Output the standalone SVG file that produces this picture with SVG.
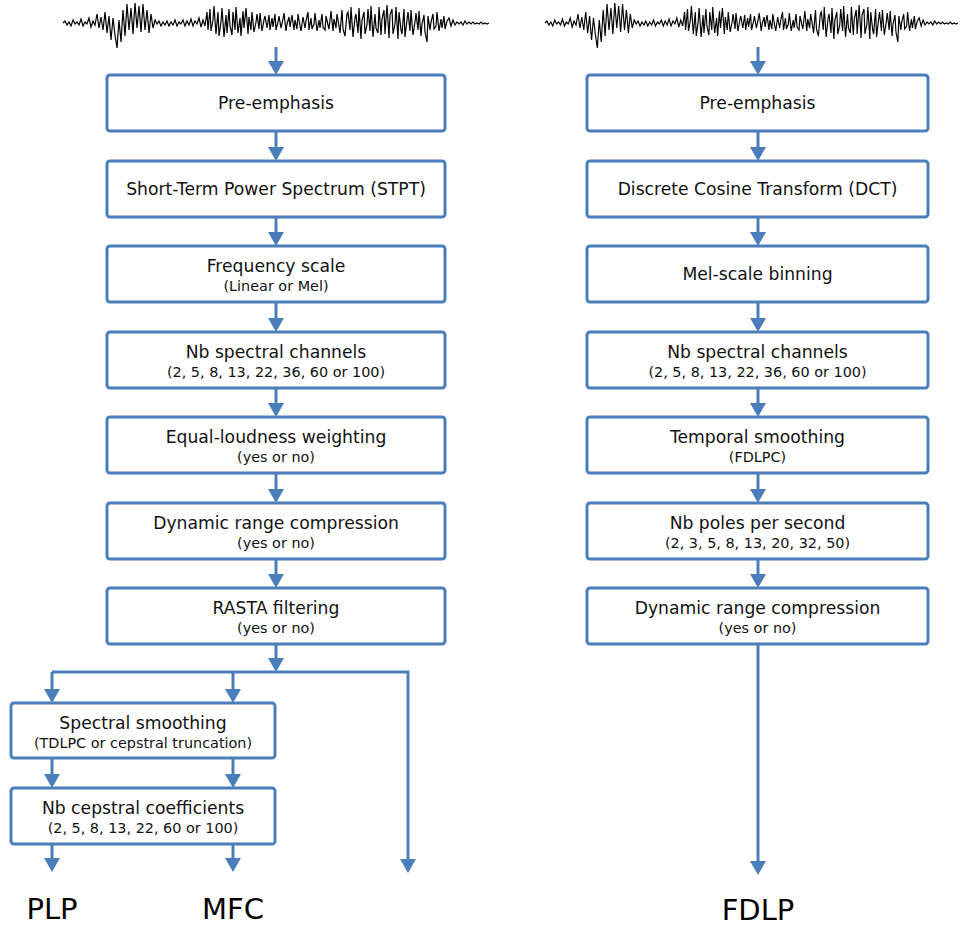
<svg xmlns="http://www.w3.org/2000/svg" xmlns:xlink="http://www.w3.org/1999/xlink" width="966" height="926" viewBox="0 0 966 926">
<style>
.box{fill:#fff;stroke:#4A7EBB;stroke-width:3}
.conn{fill:none;stroke:#4A7EBB;stroke-width:3}
.t{font-family:"DejaVu Sans",sans-serif;font-size:17.2px;fill:#111;text-anchor:middle}
.s{font-family:"DejaVu Sans",sans-serif;font-size:14.4px;fill:#111;text-anchor:middle}
.big{font-family:"DejaVu Sans",sans-serif;font-size:29px;fill:#000;text-anchor:middle}
.wave{fill:none;stroke:#000;stroke-width:1.2;stroke-linejoin:miter}
</style>
<defs>
<marker id="ah" viewBox="0 0 14 16" refX="2" refY="8" markerWidth="14" markerHeight="16" markerUnits="userSpaceOnUse" orient="auto">
<path d="M0,0 L14,8 L0,16 z" fill="#4A7EBB"/>
</marker>
<path id="wave" class="wave" d="M63,23 L65,21 67,25 69,22 71,26 73,20 75,24 77,22 79,25 81,19 83,26 85,22 87,24 89,18 91,27 93,21 95,25 97,14 99,28 101,17 103,30 105,12 107,33 109,16 111,40 113,18 115,35 117,48 119,20 121,42 123,10 125,36 127,4 129,30 131,8 133,34 135,3 137,28 139,6 141,32 143,4 145,30 147,10 149,33 151,14 153,28 155,20 157,24 159,21 161,26 163,22 165,25 167,21 169,26 171,22 173,25 175,20 177,26 179,22 181,24 183,20 185,26 187,21 189,25 191,19 193,26 195,21 197,24 199,18 201,27 203,20 205,26 207,12 208,30 210,9 211,31 213,20 214,6 216,34 218,12 219,36 221,22 222,8 224,37 226,15 227,33 229,9 230,26 232,35 233,12 235,30 236,7 238,33 240,18 241,36 243,11 244,28 246,8 248,34 249,17 251,30 252,12 254,32 256,22 257,14 259,29 260,13 262,31 264,20 265,16 267,28 269,15 270,30 272,18 273,27 275,14 276,30 278,22 279,16 281,28 283,19 284,13 286,31 287,24 289,17 290,27 292,15 294,30 295,20 297,29 298,14 300,26 301,31 303,17 305,28 306,21 308,12 309,30 311,18 312,29 314,24 315,13 317,31 319,20 320,28 322,14 323,27 325,30 326,16 328,25 329,29 331,11 333,31 334,19 336,28 337,14 339,26 340,33 342,10 343,29 345,36 347,14 348,12 350,30 351,7 353,37 355,18 356,14 358,33 359,8 361,39 362,20 364,12 365,34 367,25 368,9 370,31 371,6 373,37 375,14 376,28 378,33 379,7 381,35 382,19 384,10 385,34 387,5 389,38 390,15 392,9 393,34 395,24 396,7 398,39 399,12 401,30 402,34 404,9 405,37 407,20 408,12 410,31 411,10 413,35 415,22 416,13 418,30 419,11 421,36 422,24 424,15 425,32 427,42 428,16 430,30 431,22 433,14 434,29 436,26 437,12 439,31 441,19 442,28 444,16 445,29 447,21 449,18 451,26 453,20 455,25 457,22 459,24 461,22 463,25 465,21 467,24 469,22 471,24 473,22 475,24 477,23 479,24 481,22 483,24 485,23 487,24 489,23"/>
</defs>
<rect width="966" height="926" fill="#fff"/>

<g id="waveform-left"><use xlink:href="#wave" href="#wave"/></g>
<g id="waveform-right"><use xlink:href="#wave" href="#wave" transform="translate(545,0) scale(0.9695,1) translate(-63,0)"/></g>

<g id="connectors">
<path class="conn" marker-end="url(#ah)" d="M276,47 V63"/>
<path class="conn" marker-end="url(#ah)" d="M276,131 V149"/>
<path class="conn" marker-end="url(#ah)" d="M276,217 V234"/>
<path class="conn" marker-end="url(#ah)" d="M276,302 V320"/>
<path class="conn" marker-end="url(#ah)" d="M276,388 V405"/>
<path class="conn" marker-end="url(#ah)" d="M276,473 V491"/>
<path class="conn" marker-end="url(#ah)" d="M276,559 V576"/>
<path class="conn" marker-end="url(#ah)" d="M276,644 V660"/>
<path class="conn" marker-end="url(#ah)" d="M52,672 H408 V861"/>
<path class="conn" marker-end="url(#ah)" d="M52,672 V691"/>
<path class="conn" marker-end="url(#ah)" d="M233,672 V691"/>
<path class="conn" marker-end="url(#ah)" d="M52,758 V776"/>
<path class="conn" marker-end="url(#ah)" d="M233,758 V776"/>
<path class="conn" marker-end="url(#ah)" d="M52,844 V860"/>
<path class="conn" marker-end="url(#ah)" d="M233,844 V860"/>
<path class="conn" marker-end="url(#ah)" d="M758,47 V63"/>
<path class="conn" marker-end="url(#ah)" d="M758,131 V149"/>
<path class="conn" marker-end="url(#ah)" d="M758,217 V234"/>
<path class="conn" marker-end="url(#ah)" d="M758,302 V320"/>
<path class="conn" marker-end="url(#ah)" d="M758,388 V405"/>
<path class="conn" marker-end="url(#ah)" d="M758,473 V491"/>
<path class="conn" marker-end="url(#ah)" d="M758,559 V576"/>
<path class="conn" marker-end="url(#ah)" d="M758,644 V863"/>
</g>

<g id="l-preemph"><rect class="box" x="107" y="75" width="338" height="56" rx="3"/><text class="t" x="276" y="109">Pre-emphasis</text></g>
<g id="l-stpt"><rect class="box" x="107" y="161" width="338" height="56" rx="3"/><text class="t" x="276" y="195">Short-Term Power Spectrum (STPT)</text></g>
<g id="l-freq"><rect class="box" x="107" y="246" width="338" height="56" rx="3"/><text class="t" x="276" y="272">Frequency scale</text><text class="s" x="276" y="290.5">(Linear or Mel)</text></g>
<g id="l-nbspec"><rect class="box" x="107" y="332" width="338" height="56" rx="3"/><text class="t" x="276" y="358">Nb spectral channels</text><text class="s" x="276" y="376.5">(2, 5, 8, 13, 22, 36, 60 or 100)</text></g>
<g id="l-equal"><rect class="box" x="107" y="417" width="338" height="56" rx="3"/><text class="t" x="276" y="443">Equal-loudness weighting</text><text class="s" x="276" y="461.5">(yes or no)</text></g>
<g id="l-drc"><rect class="box" x="107" y="503" width="338" height="56" rx="3"/><text class="t" x="276" y="529">Dynamic range compression</text><text class="s" x="276" y="547.5">(yes or no)</text></g>
<g id="l-rasta"><rect class="box" x="107" y="588" width="338" height="56" rx="3"/><text class="t" x="276" y="614">RASTA filtering</text><text class="s" x="276" y="632.5">(yes or no)</text></g>

<g id="specsmooth"><rect class="box" x="11" y="703" width="264" height="55" rx="3"/><text class="t" x="143" y="729">Spectral smoothing</text><text class="s" x="143" y="747.5">(TDLPC or cepstral truncation)</text></g>
<g id="nbcep"><rect class="box" x="11" y="788" width="264" height="56" rx="3"/><text class="t" x="143" y="814">Nb cepstral coefficients</text><text class="s" x="143" y="832.5">(2, 5, 8, 13, 22, 60 or 100)</text></g>

<g id="r-preemph"><rect class="box" x="587" y="75" width="341" height="56" rx="3"/><text class="t" x="757.5" y="109">Pre-emphasis</text></g>
<g id="r-dct"><rect class="box" x="587" y="161" width="341" height="56" rx="3"/><text class="t" x="757.5" y="195">Discrete Cosine Transform (DCT)</text></g>
<g id="r-mel"><rect class="box" x="587" y="246" width="341" height="56" rx="3"/><text class="t" x="757.5" y="280">Mel-scale binning</text></g>
<g id="r-nbspec"><rect class="box" x="587" y="332" width="341" height="56" rx="3"/><text class="t" x="757.5" y="358">Nb spectral channels</text><text class="s" x="757.5" y="376.5">(2, 5, 8, 13, 22, 36, 60 or 100)</text></g>
<g id="r-temporal"><rect class="box" x="587" y="417" width="341" height="56" rx="3"/><text class="t" x="757.5" y="443">Temporal smoothing</text><text class="s" x="757.5" y="461.5">(FDLPC)</text></g>
<g id="r-poles"><rect class="box" x="587" y="503" width="341" height="56" rx="3"/><text class="t" x="757.5" y="529">Nb poles per second</text><text class="s" x="757.5" y="547.5">(2, 3, 5, 8, 13, 20, 32, 50)</text></g>
<g id="r-drc"><rect class="box" x="587" y="588" width="341" height="56" rx="3"/><text class="t" x="757.5" y="614">Dynamic range compression</text><text class="s" x="757.5" y="632.5">(yes or no)</text></g>

<g id="out-plp"><text class="big" x="52" y="919">PLP</text></g>
<g id="out-mfc"><text class="big" x="233" y="919">MFC</text></g>
<g id="out-fdlp"><text class="big" x="758" y="920">FDLP</text></g>
</svg>
